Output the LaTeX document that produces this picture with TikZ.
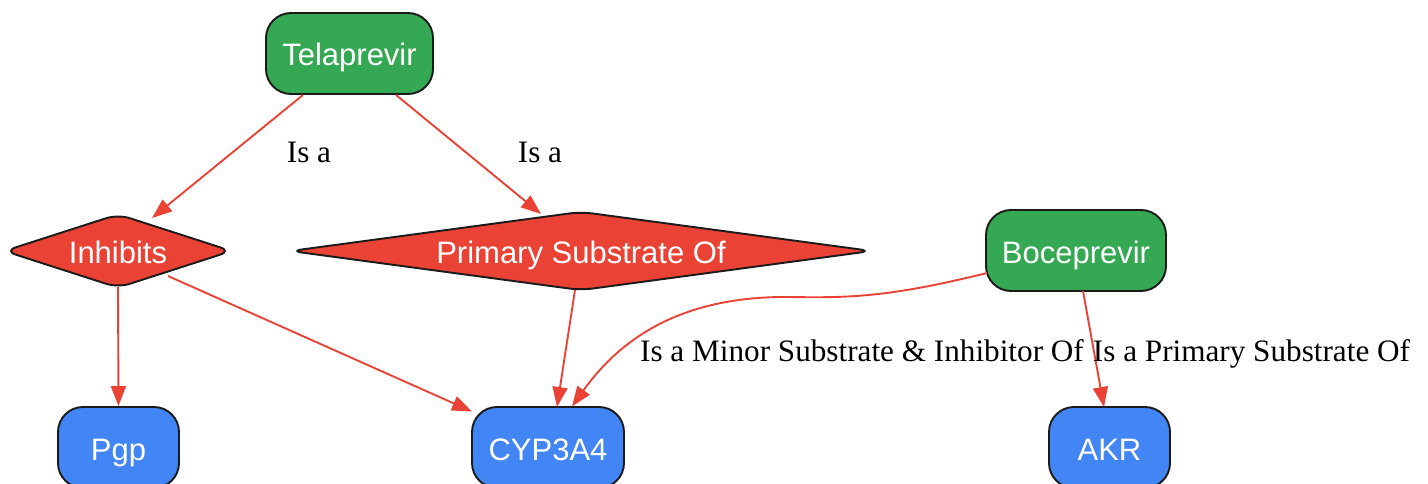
\documentclass[tikz,border=0pt]{standalone}
\usepackage{fontspec}
\setmainfont{Liberation Serif}
\newfontfamily\sansf{Liberation Sans}
\usetikzlibrary{shapes.geometric,arrows.meta,calc}
\definecolor{gnode}{HTML}{34A853}
\definecolor{rnode}{HTML}{EA4335}
\definecolor{bnode}{HTML}{4285F4}
\definecolor{bord}{HTML}{1A1A1A}
\tikzset{
  drug/.style={draw=bord, line width=1.9pt, fill=gnode, rounded corners=25pt, text=white,
    font=\sansf\fontsize{31}{36}\selectfont, inner sep=0pt, minimum height=81pt,
    text height=31pt, text depth=6pt},
  target/.style={drug, fill=bnode},
  relation/.style={draw=bord, line width=1.9pt, fill=rnode, shape=diamond, rounded corners=12pt,
    text=white, font=\sansf\fontsize{31}{36}\selectfont, inner sep=0pt,
    text height=31pt, text depth=6pt},
  edge/.style={draw=rnode, line width=1.9pt, -{Triangle[length=20pt,width=15pt]}},
  elabel/.style={font=\fontsize{31.2}{36}\selectfont, text=black, inner sep=0pt, anchor=base}
}
\begin{document}
\begin{tikzpicture}[x=1pt,y=-1pt]
\useasboundingbox (0,0) rectangle (1428,484);
\node[drug, minimum width=167pt] (tel) at (349.5,53.5) {Telaprevir};
\node[drug, minimum width=180pt] (boc) at (1076,250.5) {Boceprevir};
\node[relation, minimum width=228pt, minimum height=74pt, aspect=3] (inh) at (118,251) {Inhibits};
\node[relation, minimum width=582pt, minimum height=79pt, aspect=7.4] (pso) at (581,251) {Primary Substrate Of};
\node[target, minimum width=121pt] (pgp) at (118.5,447.5) {Pgp};
\node[target, minimum width=152pt] (cyp) at (548,447.5) {CYP3A4};
\node[target, minimum width=121pt] (akr) at (1109.5,447.5) {AKR};

\draw[edge] ($(tel.south)+(-46.5,0)$) -- ($(inh.center)+(34,-33)$);
\draw[edge] ($(tel.south)+(46.5,0)$) -- ($(pso.center)+(-40,-37)$);
\draw[edge] ($(inh.center)+(0,36)$) -- (pgp.north);
\draw[edge] ($(inh.center)+(50,25)$) -- ($(cyp.center)+(-76,-36)$);
\draw[edge] ($(pso.center)+(-6,39)$) -- ($(cyp.center)+(9,-40.5)$);
\draw[edge] ($(boc.center)+(-89,22.5)$) .. controls (890,297) and (850,298) .. (790,297)
  .. controls (700,296) and (630,325) .. ($(cyp.center)+(24,-41)$);
\draw[edge] ($(boc.center)+(7,40.5)$) -- ($(akr.center)+(-5.5,-40.5)$);

\node[elabel] (l1) at (309,163) {Is a};
\node[elabel] (l2) at (540,163) {Is a};
\node[elabel] (l3) at (862,361) {Is a Minor Substrate \& Inhibitor Of};
\node[elabel] (l4) at (1251.5,361) {Is a Primary Substrate Of};
\end{tikzpicture}
\end{document}
